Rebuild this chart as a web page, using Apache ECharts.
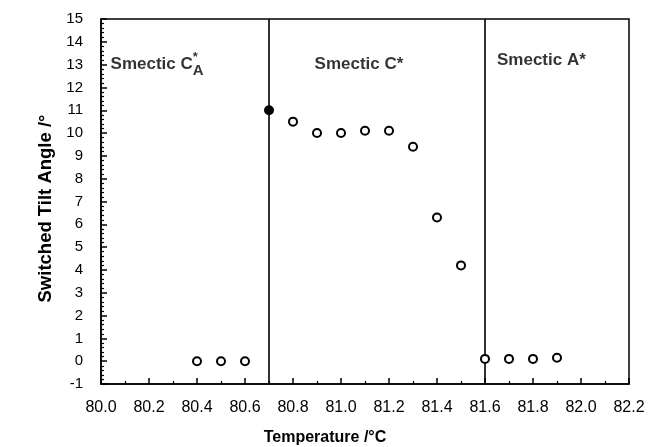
<!DOCTYPE html>
<html>
<head>
<meta charset="utf-8">
<script src="https://cdn.jsdelivr.net/npm/echarts@6/dist/echarts.min.js"></script>
<style>
html,body{margin:0;padding:0;background:#fff;}
#c{width:652px;height:447px;}
</style>
</head>
<body>
<div id="c"></div>
<script>
// ---- data ----
const temperatures = [80.4, 80.5, 80.6, 80.7, 80.8, 80.9, 81.0, 81.1, 81.2, 81.3, 81.4, 81.5, 81.6, 81.7, 81.8, 81.9];
const tiltAngles   = [0.0, 0.0, 0.0, 11.0, 10.5, 10.0, 10.0, 10.1, 10.1, 9.4, 6.3, 4.2, 0.1, 0.1, 0.1, 0.15];
const filledIndex  = [3];
const phaseBoundaries = [80.7, 81.6];
const phaseNames = ['Smectic C', 'Smectic C*', 'Smectic A*'];
const phaseLabelX = [80.04, 80.89, 81.65];
const phaseLabelY = [13.0, 13.0, 13.2];
const xTickMin = 80.0, xTickMax = 82.2, xTickStep = 0.2;
const yTickMin = -1, yTickMax = 15, yTickStep = 1;

const chart = echarts.init(document.getElementById('c'), null, {renderer: 'canvas'});
const FONT = '"Liberation Sans", Arial, Helvetica, sans-serif';

const pointData = temperatures.map((t, i) => {
  const filled = filledIndex.includes(i);
  return {
    value: [t, tiltAngles[i]],
    itemStyle: filled ? {color: '#000', borderColor: '#000', borderWidth: 2} : undefined
  };
});

const labelData = phaseNames.map((n, i) => {
  let fmt;
  if (i === 0) fmt = '{t|' + n + '}{s|*}{a|A}';
  else fmt = '{t|' + n + '}';
  return {value: [phaseLabelX[i], phaseLabelY[i]], label: {formatter: fmt}};
});

chart.setOption({
  animation: false,
  backgroundColor: '#fff',
  grid: {left: 101, right: 23, top: 19, bottom: 63, containLabel: false, outerBoundsMode: 'none',
         show: true, borderColor: '#000', borderWidth: 1.5, backgroundColor: 'transparent'},
  xAxis: {
    type: 'value', min: xTickMin, max: xTickMax, interval: xTickStep,
    name: 'Temperature /°C', nameLocation: 'middle', nameGap: 46,
    nameTextStyle: {fontFamily: FONT, fontWeight: 'bold', fontSize: 16, color: '#000', padding: [0, 80, 0, 0]},
    axisLine: {show: true, onZero: false, lineStyle: {color: '#000', width: 1.5}},
    axisTick: {show: true, inside: true, length: 6, lineStyle: {color: '#000', width: 1.5}},
    minorTick: {show: true, splitNumber: 2, length: 3, lineStyle: {color: '#000', width: 1.2}},
    axisLabel: {fontFamily: FONT, fontSize: 16, color: '#000', margin: 16, formatter: v => v.toFixed(1)},
    splitLine: {show: false}
  },
  yAxis: {
    type: 'value', min: yTickMin, max: yTickMax, interval: yTickStep,
    name: 'Switched Tilt Angle /°', nameLocation: 'middle', nameGap: 38, nameRotate: 90,
    nameTextStyle: {fontFamily: FONT, fontWeight: 'bold', fontSize: 18.5, color: '#000', padding: [0, 14, 0, 0]},
    axisLine: {show: true, onZero: false, lineStyle: {color: '#000', width: 1.5}},
    axisTick: {show: true, inside: true, length: 6, lineStyle: {color: '#000', width: 1.5}},
    minorTick: {show: true, splitNumber: 5, length: 3, lineStyle: {color: '#000', width: 1.2}},
    axisLabel: {fontFamily: FONT, fontSize: 15, color: '#000', margin: 18},
    splitLine: {show: false}
  },
  series: [
    {
      type: 'scatter',
      data: pointData,
      symbol: 'circle', symbolSize: 8,
      itemStyle: {color: '#fff', borderColor: '#000', borderWidth: 2, opacity: 1},
      z: 5,
      markLine: {
        silent: true, symbol: 'none', label: {show: false},
        lineStyle: {color: '#000', width: 1.6, type: 'solid'},
        data: phaseBoundaries.map(b => ({xAxis: b}))
      }
    },
    {
      type: 'scatter',
      data: labelData,
      symbolSize: 0, silent: true,
      label: {
        show: true, position: 'right', distance: 0,
        rich: {
          t: {fontFamily: FONT, fontWeight: 'bold', fontSize: 17, color: '#000', lineHeight: 28, verticalAlign: 'middle'},
          s: {fontFamily: FONT, fontWeight: 'bold', fontSize: 13, color: '#000', verticalAlign: 'top', width: 0, lineHeight: 28},
          a: {fontFamily: FONT, fontWeight: 'bold', fontSize: 15, color: '#000', verticalAlign: 'bottom', lineHeight: 28}
        }
      }
    }
  ]
});
</script>
</body>
</html>
